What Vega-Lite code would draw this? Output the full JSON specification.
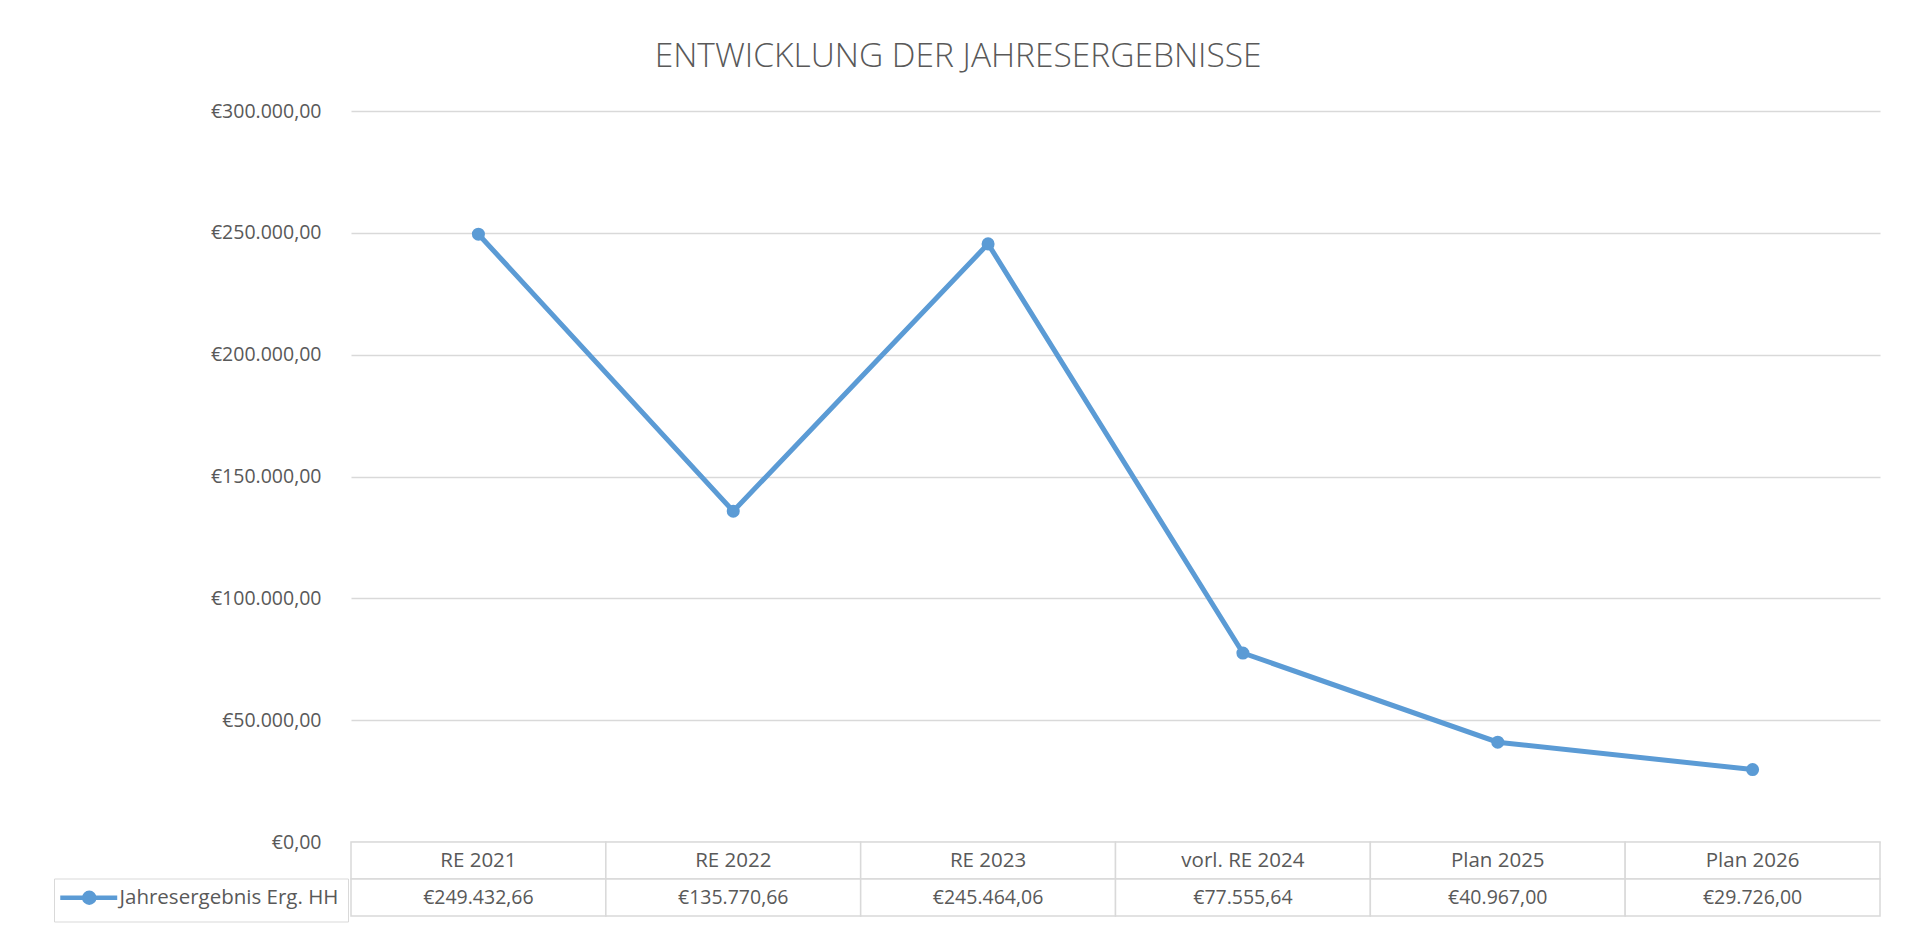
{
  "$schema": "https://vega.github.io/schema/vega-lite/v6.json",
  "padding": {"left": 53, "top": 39, "right": 10, "bottom": 4},
  "background": "white",
  "bounds": "flush",
  "config": {
    "locale": {"number": {"decimal": ",", "thousands": ".", "grouping": [3], "currency": ["€", ""]}},
    "font": "Open Sans",
    "view": {"stroke": null},
    "concat": {"spacing": 0}
  },
  "title": {
    "text": "ENTWICKLUNG DER JAHRESERGEBNISSE",
    "fontSize": 33.5,
    "fontWeight": 300,
    "color": "#595959",
    "font": "Open Sans",
    "anchor": "middle",
    "dx": -9,
    "offset": 27
  },
  "data": {
    "values": [
      {"Kategorie": "RE 2021", "Wert": 249432.66},
      {"Kategorie": "RE 2022", "Wert": 135770.66},
      {"Kategorie": "RE 2023", "Wert": 245464.06},
      {"Kategorie": "vorl. RE 2024", "Wert": 77555.64},
      {"Kategorie": "Plan 2025", "Wert": 40967.00},
      {"Kategorie": "Plan 2026", "Wert": 29726.00}
    ]
  },
  "vconcat": [
    {
      "width": 1529,
      "height": 731,
      "encoding": {
        "x": {"field": "Kategorie", "type": "nominal", "sort": null, "axis": null, "scale": {"type": "point", "padding": 0.5}},
        "y": {
          "field": "Wert",
          "type": "quantitative",
          "scale": {"domain": [0, 300000], "nice": false},
          "axis": {
            "values": [0, 50000, 100000, 150000, 200000, 250000, 300000],
            "format": "$,.2f",
            "title": null,
            "domain": false,
            "ticks": false,
            "labelPadding": 30,
            "labelFontSize": 19.5,
            "labelColor": "#595959",
            "labelFont": "Open Sans",
            "gridColor": "#d9d9d9",
            "gridWidth": 1.3
          }
        },
        "color": {
          "datum": "Jahresergebnis Erg. HH",
          "type": "nominal",
          "scale": {"range": ["#5b9bd5"]},
          "legend": {
            "orient": "none",
            "legendX": -297,
            "legendY": 767.5,
            "title": null,
            "symbolType": "M-1.677,0H5.677M2.71,0A0.645,0.645,0,1,1,1.42,0A0.645,0.645,0,1,1,2.71,0Z",
            "symbolSize": 240,
            "symbolStrokeWidth": 4.5,
            "symbolFillColor": "#5b9bd5",
            "symbolStrokeColor": "#5b9bd5",
            "symbolOpacity": 1,
            "labelFontSize": 20.5,
            "labelColor": "#595959",
            "labelFont": "Open Sans",
            "labelOffset": 36,
            "labelLimit": 0,
            "padding": 9,
            "strokeColor": "#d9d9d9",
            "fillColor": "white",
            "cornerRadius": 0
          }
        }
      },
      "layer": [
        {"mark": {"type": "line", "strokeWidth": 5, "strokeCap": "round"}},
        {"mark": {"type": "point", "filled": true, "size": 170, "opacity": 1}}
      ]
    },
    {
      "width": 1529,
      "height": 74,
      "encoding": {
        "x": {"field": "Kategorie", "type": "nominal", "sort": null, "axis": null, "scale": {"type": "band", "paddingInner": 0, "paddingOuter": 0}}
      },
      "layer": [
        {
          "mark": {"type": "rect", "fill": "white", "stroke": "#d9d9d9", "strokeWidth": 1.5},
          "encoding": {"y": {"datum": "Kategorie", "type": "nominal", "scale": {"domain": ["Kategorie", "Wert"], "paddingInner": 0, "paddingOuter": 0}, "axis": null}}
        },
        {
          "mark": {"type": "rect", "fill": "white", "stroke": "#d9d9d9", "strokeWidth": 1.5},
          "encoding": {"y": {"datum": "Wert", "type": "nominal"}}
        },
        {
          "mark": {"type": "text", "fontSize": 20.5, "color": "#595959", "font": "Open Sans", "align": "center", "baseline": "middle"},
          "encoding": {"y": {"datum": "Kategorie", "type": "nominal"}, "text": {"field": "Kategorie", "type": "nominal"}}
        },
        {
          "mark": {"type": "text", "fontSize": 19.5, "color": "#595959", "font": "Open Sans", "align": "center", "baseline": "middle"},
          "encoding": {"y": {"datum": "Wert", "type": "nominal"}, "text": {"field": "Wert", "type": "quantitative", "format": "$,.2f"}}
        }
      ]
    }
  ]
}
